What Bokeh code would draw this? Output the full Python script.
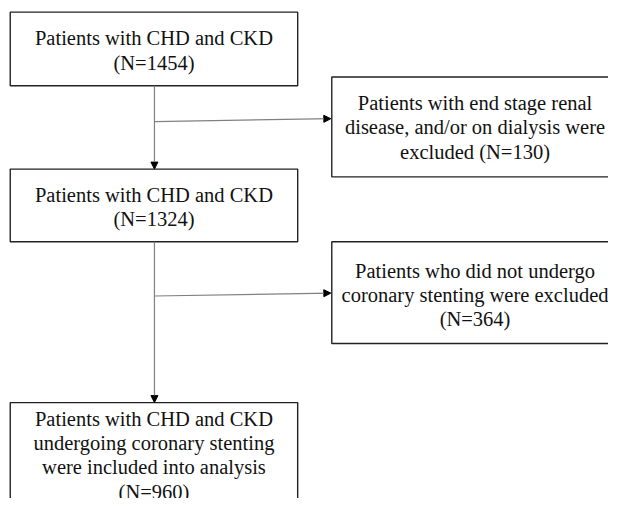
from bokeh.plotting import figure
from bokeh.models import Range1d, Arrow, NormalHead
from bokeh.core.properties import value
from bokeh.embed import file_html
from bokeh.resources import INLINE

# ---- content ----
main_texts = [
    ["Patients with CHD and CKD", "(N=1454)"],
    ["Patients with CHD and CKD", "(N=1324)"],
    ["Patients with CHD and CKD", "undergoing coronary stenting",
     "were included into analysis", "(N=960)"],
]
excl_texts = [
    ["Patients with end stage renal", "disease, and/or on dialysis were",
     "excluded (N=130)"],
    ["Patients who did not undergo", "coronary stenting were excluded",
     "(N=364)"],
]

# ---- layout (reference pixel coordinates, y downward) ----
main_boxes = [(10, 305, 12, 88), (10, 305, 174, 249), (10, 305, 415, 540)]
main_first_line = [39, 201, 432]
excl_boxes = [(340, 636, 79, 182), (340, 636, 249, 354)]
excl_first_line = [106, 279]
excl_center = 487
line_gap = 25.0

p = figure(width=608, height=498, output_backend="svg", toolbar_location=None,
           x_range=Range1d(0, 624), y_range=Range1d(514, 0),
           min_border=0, outline_line_color=None)
p.axis.visible = False
p.grid.visible = False
p.background_fill_color = "white"

boxes = main_boxes + excl_boxes
p.quad(left=[b[0] for b in boxes], right=[b[1] for b in boxes],
       top=[b[2] for b in boxes], bottom=[b[3] for b in boxes],
       fill_color="white", line_color="#222222", line_width=1.4)

tx, ty, tt = [], [], []
for b, y0, lines in zip(main_boxes, main_first_line, main_texts):
    cx = (b[0] + b[1]) / 2
    for i, s in enumerate(lines):
        tx.append(cx); ty.append(y0 + i * line_gap); tt.append(s)
for b, y0, lines in zip(excl_boxes, excl_first_line, excl_texts):
    for i, s in enumerate(lines):
        tx.append(excl_center); ty.append(y0 + i * line_gap); tt.append(s)
p.text(x=tx, y=ty, text=tt,
       text_font=value("'Liberation Serif', 'Times New Roman', serif"),
       text_font_size="20.5px", text_align="center", text_baseline="middle",
       text_color="#111111")

# connectors
arrows = [
    (158, 88, 158, 174),
    (158, 125, 339, 122),
    (158, 249, 158, 415),
    (158, 305, 339, 302),
]
for x0, y0, x1, y1 in arrows:
    p.add_layout(Arrow(end=NormalHead(size=7, fill_color="black", line_color="black"),
                       x_start=x0, y_start=y0, x_end=x1, y_end=y1,
                       line_color="#808080", line_width=1.2))

open("out.html", "w").write(file_html(p, INLINE))
